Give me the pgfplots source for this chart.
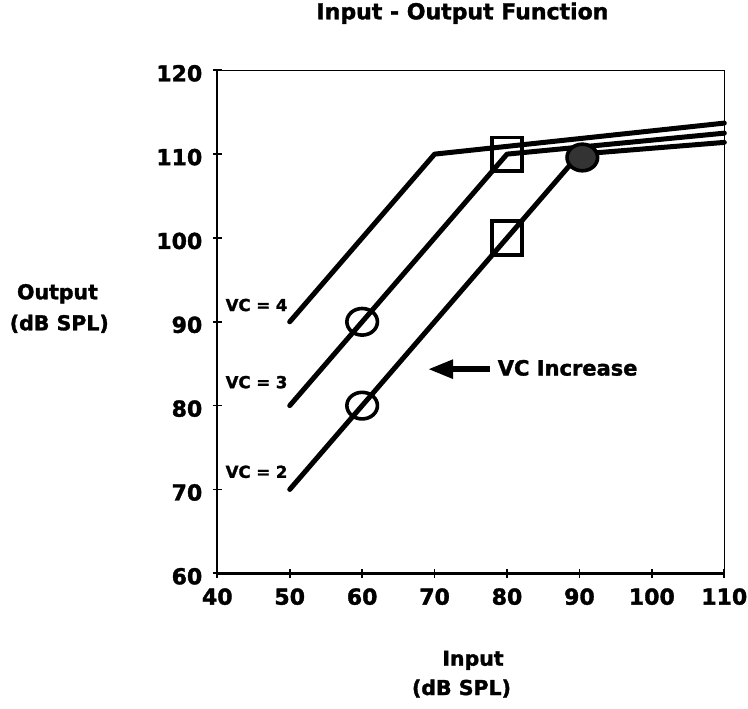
\documentclass[border=0pt]{standalone}
\usepackage{fontspec}
\setmainfont{DejaVu Sans}[BoldFeatures={FakeBold=1.6}]
\usepackage{pgfplots}
\pgfplotsset{compat=1.18}
\usetikzlibrary{arrows.meta}

\newcommand{\tickfont}{\fontsize{22bp}{22bp}\selectfont\bfseries}
\newcommand{\labfont}{\fontsize{20.5bp}{20.5bp}\selectfont\bfseries}
\newcommand{\vcfont}{\fontsize{16.5bp}{16.5bp}\selectfont\bfseries}

\begin{document}
\begin{tikzpicture}
\useasboundingbox (-217.3bp,-135.7bp) rectangle (530.7bp,573.3bp);
\begin{axis}[
    at={(0,0)}, anchor=south west,
    scale only axis,
    width=507bp, height=503bp,
    xmin=40, xmax=110, ymin=60, ymax=120,
    axis x line*=bottom, axis y line*=left,
    axis line style={line width=2.4bp},
    xtick={40,50,...,110}, ytick={60,70,...,120},
    tick align=center,
    major tick length=9bp,
    tick style={line width=1.6bp, black},
    ticklabel style={font=\tickfont},
    /pgf/number format/assume math mode=true,
    xticklabel style={yshift=-7bp},
    yticklabel style={xshift=-7bp, yshift=-3bp},
    clip=false,
]
% thin top and right frame
\draw[line width=1.3bp] (rel axis cs:0,1) -- (rel axis cs:1,1) -- (rel axis cs:1,0);

% VC = 4
\addplot[line width=5bp, line join=round, line cap=round] coordinates {(50,90) (70,110) (110,113.7)};
% VC = 3
\addplot[line width=5bp, line join=round, line cap=round] coordinates {(50,80) (80,110) (110,112.5)};
% VC = 2
\addplot[line width=5bp, line join=round, line cap=round] coordinates {(50,70) (90,110) (110,111.4)};

% square markers
\addplot[only marks, mark=square, mark size=15bp,
    mark options={line width=3.6bp, yscale=1.12}] coordinates {(80,110) (80,100)};
% open circle markers
\addplot[only marks, mark=o, mark size=13.3bp,
    mark options={line width=3.6bp, xscale=1.15}] coordinates {(60,90) (60,80)};
% shaded circle marker
\addplot[only marks, mark=*, mark size=13.3bp,
    mark options={line width=3.6bp, xscale=1.15, fill=black!80, draw=black}] coordinates {(90.4,109.6)};

% curve labels
\node[anchor=east, inner sep=0pt, font=\vcfont] at (axis cs:49.7,92) {VC = 4};
\node[anchor=east, inner sep=0pt, font=\vcfont] at (axis cs:49.7,82.8) {VC = 3};
\node[anchor=east, inner sep=0pt, font=\vcfont] at (axis cs:49.7,72.1) {VC = 2};

% arrow annotation
\draw[line width=5.5bp, -{Triangle[length=25bp, width=18bp]}] (axis cs:77.6,84.35) -- (axis cs:69.1,84.35);
\node[anchor=west, inner sep=0pt, font=\fontsize{21bp}{21bp}\selectfont\bfseries] at (axis cs:78.7,84.5) {VC Increase};
\end{axis}

% title and axis titles
\node[anchor=base, font=\fontsize{22bp}{22bp}\selectfont\bfseries] at (245.2bp,554bp) {Input - Output Function};
\node[anchor=base, font=\labfont] at (-159.8bp,274bp) {Output};
\node[anchor=base, font=\labfont] at (-158bp,243bp) {(dB SPL)};
\node[anchor=base, font=\labfont] at (255.7bp,-92.4bp) {Input};
\node[anchor=base, font=\labfont] at (244.2bp,-121.7bp) {(dB SPL)};
\end{tikzpicture}
\end{document}
